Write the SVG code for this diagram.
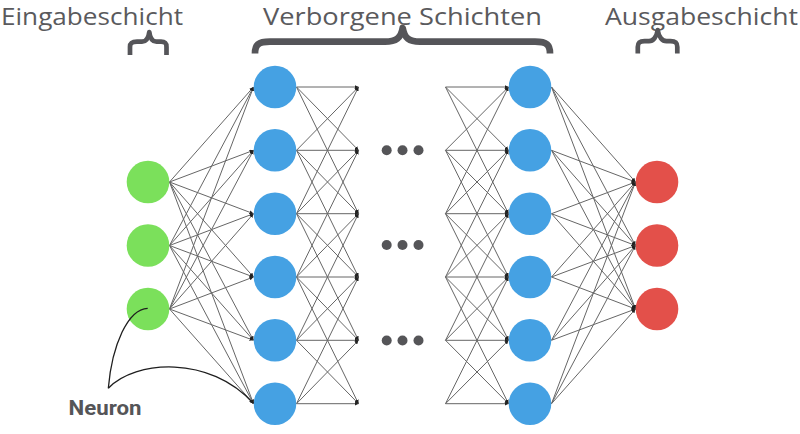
<svg xmlns="http://www.w3.org/2000/svg" width="800" height="434" viewBox="0 0 800 434">
<style>
.title{font-family:"Open Sans","Liberation Sans",sans-serif;font-weight:400;font-size:23.5px;fill:#5a5a5d}
.lbl{font-family:Roboto,"Liberation Sans",sans-serif;font-weight:bold;font-size:21px;fill:#555558}
.brace{fill:none;stroke:#555559;stroke-linejoin:round}
.in{fill:#7be05b}
.hid{fill:#45a1e3}
.out{fill:#e3504a}
.dot{fill:#555558}
#connectors line{stroke:#666;stroke-width:1;marker-end:url(#a)}
.curve{fill:none;stroke:#1e1e1e;stroke-width:1.3}
</style>
<defs>
<marker id="a" viewBox="0 0 6 6" refX="6" refY="3" markerWidth="4" markerHeight="4" markerUnits="userSpaceOnUse" orient="auto">
<path d="M0,0 L6,3 L0,6 z" fill="#222"/>
</marker>
</defs>
<rect width="800" height="434" fill="#fff"/>

<g id="labels">
<text class="title" x="1" y="25.3" textLength="182" lengthAdjust="spacingAndGlyphs">Eingabeschicht</text>
<text class="title" x="263" y="25.3" textLength="279" lengthAdjust="spacingAndGlyphs">Verborgene Schichten</text>
<text class="title" x="605" y="25.3" textLength="193" lengthAdjust="spacingAndGlyphs">Ausgabeschicht</text>
</g>

<g id="braces">
<path class="brace" stroke-width="4.7" d="M130,55 L130,47 C130,43 132,41.7 137,41.7 L142,41.7 C146,41.7 148.5,38 149.3,32 C150,38 152.5,41.7 156.5,41.7 L161,41.7 C165,41.7 166.5,43 166.5,47 L166.5,55"/>
<path class="brace" stroke-width="6.7" d="M255,53.5 C255,45 258,41.7 270,41.7 L385,41.7 C396,41.7 401,38 402.7,28 C404.4,38 409,41.7 420,41.7 L535,41.7 C547,41.7 550,45 550,53.5"/>
<path class="brace" stroke-width="4.7" d="M637.8,53.5 L637.8,47 C637.8,43 639.5,41.2 644.5,41.2 L649,41.2 C653,41.2 656.8,37 657.7,30 C658.6,37 662.4,41.2 666.5,41.2 L670.5,41.2 C675.5,41.2 677.3,43 677.3,47 L677.3,53.5"/>
</g>

<g id="connectors">
<line x1="169.5" y1="182" x2="253.5" y2="87"/>
<line x1="169.5" y1="182" x2="253.5" y2="150.3"/>
<line x1="169.5" y1="182" x2="253.5" y2="213.7"/>
<line x1="169.5" y1="182" x2="253.5" y2="277"/>
<line x1="169.5" y1="182" x2="253.5" y2="340.3"/>
<line x1="169.5" y1="182" x2="253.5" y2="403.7"/>
<line x1="169.5" y1="245.5" x2="253.5" y2="87"/>
<line x1="169.5" y1="245.5" x2="253.5" y2="150.3"/>
<line x1="169.5" y1="245.5" x2="253.5" y2="213.7"/>
<line x1="169.5" y1="245.5" x2="253.5" y2="277"/>
<line x1="169.5" y1="245.5" x2="253.5" y2="340.3"/>
<line x1="169.5" y1="245.5" x2="253.5" y2="403.7"/>
<line x1="169.5" y1="309" x2="253.5" y2="87"/>
<line x1="169.5" y1="309" x2="253.5" y2="150.3"/>
<line x1="169.5" y1="309" x2="253.5" y2="213.7"/>
<line x1="169.5" y1="309" x2="253.5" y2="277"/>
<line x1="169.5" y1="309" x2="253.5" y2="340.3"/>
<line x1="169.5" y1="309" x2="253.5" y2="403.7"/>
<line x1="296.5" y1="87" x2="358.5" y2="87"/>
<line x1="296.5" y1="87" x2="358.5" y2="150.3"/>
<line x1="296.5" y1="87" x2="358.5" y2="213.7"/>
<line x1="296.5" y1="150.3" x2="358.5" y2="87"/>
<line x1="296.5" y1="150.3" x2="358.5" y2="150.3"/>
<line x1="296.5" y1="150.3" x2="358.5" y2="213.7"/>
<line x1="296.5" y1="150.3" x2="358.5" y2="277"/>
<line x1="296.5" y1="213.7" x2="358.5" y2="87"/>
<line x1="296.5" y1="213.7" x2="358.5" y2="150.3"/>
<line x1="296.5" y1="213.7" x2="358.5" y2="213.7"/>
<line x1="296.5" y1="213.7" x2="358.5" y2="277"/>
<line x1="296.5" y1="213.7" x2="358.5" y2="340.3"/>
<line x1="296.5" y1="277" x2="358.5" y2="150.3"/>
<line x1="296.5" y1="277" x2="358.5" y2="213.7"/>
<line x1="296.5" y1="277" x2="358.5" y2="277"/>
<line x1="296.5" y1="277" x2="358.5" y2="340.3"/>
<line x1="296.5" y1="277" x2="358.5" y2="403.7"/>
<line x1="296.5" y1="340.3" x2="358.5" y2="213.7"/>
<line x1="296.5" y1="340.3" x2="358.5" y2="277"/>
<line x1="296.5" y1="340.3" x2="358.5" y2="340.3"/>
<line x1="296.5" y1="340.3" x2="358.5" y2="403.7"/>
<line x1="296.5" y1="403.7" x2="358.5" y2="277"/>
<line x1="296.5" y1="403.7" x2="358.5" y2="340.3"/>
<line x1="296.5" y1="403.7" x2="358.5" y2="403.7"/>
<line x1="445.5" y1="87" x2="508.5" y2="87"/>
<line x1="445.5" y1="87" x2="508.5" y2="150.3"/>
<line x1="445.5" y1="87" x2="508.5" y2="213.7"/>
<line x1="445.5" y1="150.3" x2="508.5" y2="87"/>
<line x1="445.5" y1="150.3" x2="508.5" y2="150.3"/>
<line x1="445.5" y1="150.3" x2="508.5" y2="213.7"/>
<line x1="445.5" y1="150.3" x2="508.5" y2="277"/>
<line x1="445.5" y1="213.7" x2="508.5" y2="87"/>
<line x1="445.5" y1="213.7" x2="508.5" y2="150.3"/>
<line x1="445.5" y1="213.7" x2="508.5" y2="213.7"/>
<line x1="445.5" y1="213.7" x2="508.5" y2="277"/>
<line x1="445.5" y1="213.7" x2="508.5" y2="340.3"/>
<line x1="445.5" y1="277" x2="508.5" y2="150.3"/>
<line x1="445.5" y1="277" x2="508.5" y2="213.7"/>
<line x1="445.5" y1="277" x2="508.5" y2="277"/>
<line x1="445.5" y1="277" x2="508.5" y2="340.3"/>
<line x1="445.5" y1="277" x2="508.5" y2="403.7"/>
<line x1="445.5" y1="340.3" x2="508.5" y2="213.7"/>
<line x1="445.5" y1="340.3" x2="508.5" y2="277"/>
<line x1="445.5" y1="340.3" x2="508.5" y2="340.3"/>
<line x1="445.5" y1="340.3" x2="508.5" y2="403.7"/>
<line x1="445.5" y1="403.7" x2="508.5" y2="277"/>
<line x1="445.5" y1="403.7" x2="508.5" y2="340.3"/>
<line x1="445.5" y1="403.7" x2="508.5" y2="403.7"/>
<line x1="551.5" y1="87" x2="635.5" y2="182"/>
<line x1="551.5" y1="87" x2="635.5" y2="245.5"/>
<line x1="551.5" y1="87" x2="635.5" y2="309"/>
<line x1="551.5" y1="150.3" x2="635.5" y2="182"/>
<line x1="551.5" y1="150.3" x2="635.5" y2="245.5"/>
<line x1="551.5" y1="150.3" x2="635.5" y2="309"/>
<line x1="551.5" y1="213.7" x2="635.5" y2="182"/>
<line x1="551.5" y1="213.7" x2="635.5" y2="245.5"/>
<line x1="551.5" y1="213.7" x2="635.5" y2="309"/>
<line x1="551.5" y1="277" x2="635.5" y2="182"/>
<line x1="551.5" y1="277" x2="635.5" y2="245.5"/>
<line x1="551.5" y1="277" x2="635.5" y2="309"/>
<line x1="551.5" y1="340.3" x2="635.5" y2="182"/>
<line x1="551.5" y1="340.3" x2="635.5" y2="245.5"/>
<line x1="551.5" y1="340.3" x2="635.5" y2="309"/>
<line x1="551.5" y1="403.7" x2="635.5" y2="182"/>
<line x1="551.5" y1="403.7" x2="635.5" y2="245.5"/>
<line x1="551.5" y1="403.7" x2="635.5" y2="309"/>
</g>

<g id="input-layer">
<g id="in1"><circle class="in" cx="148" cy="182" r="21.3"/></g>
<g id="in2"><circle class="in" cx="148" cy="245.5" r="21.3"/></g>
<g id="in3"><circle class="in" cx="148" cy="309" r="21.3"/></g>
</g>

<g id="hidden-first">
<g id="h1-1"><circle class="hid" cx="275" cy="87" r="21.3"/></g>
<g id="h1-2"><circle class="hid" cx="275" cy="150.3" r="21.3"/></g>
<g id="h1-3"><circle class="hid" cx="275" cy="213.7" r="21.3"/></g>
<g id="h1-4"><circle class="hid" cx="275" cy="277" r="21.3"/></g>
<g id="h1-5"><circle class="hid" cx="275" cy="340.3" r="21.3"/></g>
<g id="h1-6"><circle class="hid" cx="275" cy="403.7" r="21.3"/></g>
</g>

<g id="hidden-last">
<g id="h2-1"><circle class="hid" cx="530" cy="87" r="21.3"/></g>
<g id="h2-2"><circle class="hid" cx="530" cy="150.3" r="21.3"/></g>
<g id="h2-3"><circle class="hid" cx="530" cy="213.7" r="21.3"/></g>
<g id="h2-4"><circle class="hid" cx="530" cy="277" r="21.3"/></g>
<g id="h2-5"><circle class="hid" cx="530" cy="340.3" r="21.3"/></g>
<g id="h2-6"><circle class="hid" cx="530" cy="403.7" r="21.3"/></g>
</g>

<g id="output-layer">
<g id="out1"><circle class="out" cx="657" cy="182" r="21.3"/></g>
<g id="out2"><circle class="out" cx="657" cy="245.5" r="21.3"/></g>
<g id="out3"><circle class="out" cx="657" cy="309" r="21.3"/></g>
</g>

<g id="ellipses">
<circle class="dot" cx="386.7" cy="150.3" r="5"/>
<circle class="dot" cx="402.5" cy="150.3" r="5"/>
<circle class="dot" cx="418.5" cy="150.3" r="5"/>
<circle class="dot" cx="386.7" cy="245" r="5"/>
<circle class="dot" cx="402.5" cy="245" r="5"/>
<circle class="dot" cx="418.5" cy="245" r="5"/>
<circle class="dot" cx="386.7" cy="340.5" r="5"/>
<circle class="dot" cx="402.5" cy="340.5" r="5"/>
<circle class="dot" cx="418.5" cy="340.5" r="5"/>
</g>

<g id="neuron-label">
<path class="curve" d="M147.7,308.3 C128,309 112,345 108.3,388.3"/>
<path class="curve" d="M108.3,388.3 C135,360 210,355 253.3,403.3" marker-end="url(#a)"/>
<text class="lbl" x="68.5" y="415" textLength="73" lengthAdjust="spacingAndGlyphs">Neuron</text>
</g>
</svg>
